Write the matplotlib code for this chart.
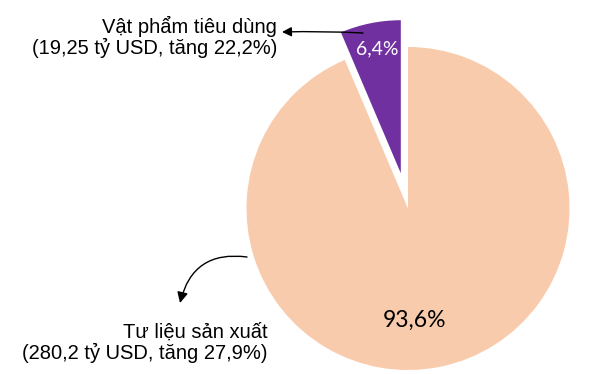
import matplotlib
matplotlib.use("Agg")
import matplotlib.pyplot as plt

# Cơ cấu nhập khẩu theo nhóm hàng
categories = ["Vật phẩm tiêu dùng", "Tư liệu sản xuất"]
shares = [6.4, 93.6]
values_bn = ["19,25", "280,2"]
growth = ["22,2%", "27,9%"]
colors = ["#7030A0", "#F8CBAD"]

W, H = 613, 374
fig = plt.figure(figsize=(W / 100, H / 100), dpi=100)
ax = fig.add_axes([0, 0, 1, 1])

# pie drawn in pixel-like data units; explode offset is in the same units
cx, cy, r = 408, H - 208.5, 161.5
wedges, _ = ax.pie(shares, colors=colors, startangle=90, counterclock=True,
                   center=(cx, cy), radius=r, explode=[36, 0],
                   wedgeprops=dict(linewidth=0), frame=True)
wedges[0].set_radius(153)
ax.set_xlim(0, W)
ax.set_ylim(0, H)
ax.set_aspect("auto")
ax.axis("off")

pct = [f"{s:.1f}".replace(".", ",") + "%" for s in shares]
ax.text(377, H - 49, pct[0], color="white", fontsize=14, family="Lato",
        ha="center", va="center")
ax.text(414, H - 320, pct[1], color="black", fontsize=16.5, family="Lato",
        ha="center", va="center")

lab_font = dict(fontsize=14.5, family="Liberation Sans", color="black",
                ha="right", va="center", linespacing=1.1)
ax.text(277, H - 37, f"{categories[0]}\n({values_bn[0]} tỷ USD, tăng {growth[0]})",
        **lab_font)
ax.text(268, H - 343, f"{categories[1]}\n({values_bn[1]} tỷ USD, tăng {growth[1]})",
        **lab_font)

ax.annotate("", xy=(282, H - 32), xytext=(363, H - 33),
            arrowprops=dict(arrowstyle="-|>", color="black", lw=1,
                            mutation_scale=14, shrinkA=0, shrinkB=0,
                            connectionstyle="arc3,rad=0.02"))
ax.annotate("", xy=(180, H - 303), xytext=(247, H - 257),
            arrowprops=dict(arrowstyle="-|>", color="black", lw=1,
                            mutation_scale=16, shrinkA=0, shrinkB=0,
                            connectionstyle="arc3,rad=0.45"))

fig.savefig("out.png", dpi=100)
